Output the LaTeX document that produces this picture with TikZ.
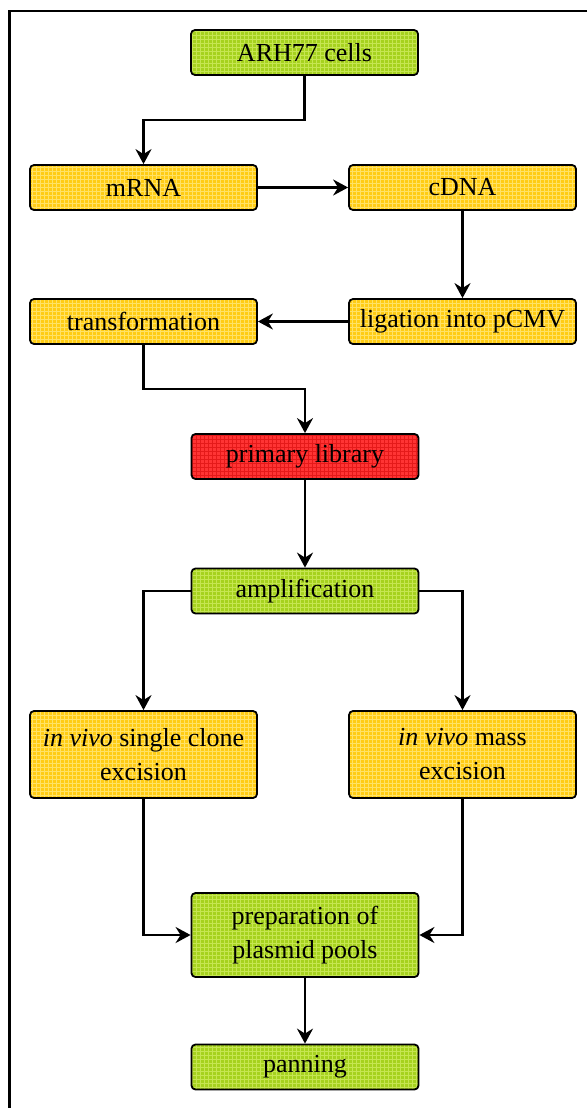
\documentclass[tikz,border=0pt]{standalone}
\usepackage{fontspec}
\setmainfont{Liberation Serif}
\usetikzlibrary{patterns.meta,arrows.meta}
\definecolor{gfill}{HTML}{A6D21E}
\definecolor{ggrid}{HTML}{C6E652}
\definecolor{yfill}{HTML}{FFCC14}
\definecolor{ygrid}{HTML}{FFE266}
\definecolor{rfill}{HTML}{FF3434}
\definecolor{rgrid}{HTML}{E51A1A}
\tikzdeclarepattern{
  name=coarsegrid,
  type=uncolored,
  bounding box={(-0.5pt,-0.5pt) and (4.5pt,4.5pt)},
  tile size={(4pt,4pt)},
  line width=0.7pt,
  code={
    \pgfpathmoveto{\pgfpointorigin}
    \pgfpathlineto{\pgfqpoint{4pt}{0pt}}
    \pgfpathmoveto{\pgfpointorigin}
    \pgfpathlineto{\pgfqpoint{0pt}{4pt}}
    \pgfusepath{stroke}
  }
}
\begin{document}
\begin{tikzpicture}[x=1pt,y=-1pt,
  box/.style={draw=black, line width=1.8pt, rounded corners=4pt,
    minimum width=227pt, minimum height=45pt, align=center, inner sep=0pt,
    font=\fontsize{26}{34}\selectfont},
  gbox/.style={box, preaction={fill=gfill}, pattern=coarsegrid, pattern color=ggrid},
  ybox/.style={box, preaction={fill=yfill}, pattern=coarsegrid, pattern color=ygrid},
  rbox/.style={box, preaction={fill=rfill}, pattern=coarsegrid, pattern color=rgrid},
  arr/.style={line width=2.6pt, -{Stealth[length=15pt,width=16pt,inset=5pt]}},
  frame/.style={line width=2.8pt}]
\useasboundingbox (0,0) rectangle (587,1108);
\coordinate (ftr) at (587,11);
\coordinate (ftl) at (9.5,11);
\coordinate (fbl) at (9.5,1108);
\draw[frame] (ftr) -- (ftl) -- (fbl);

\node[gbox] (arh) at (304.5,52.5) {ARH77 cells};
\node[ybox] (mrna) at (143.5,187.5) {mRNA};
\node[ybox] (cdna) at (462.5,187.5) {cDNA};
\node[ybox] (lig) at (462.5,321.5) {ligation into pCMV};
\node[ybox] (trans) at (143.5,321.5) {transformation};
\node[rbox] (prim) at (305,456.5) {primary library};
\node[gbox] (amp) at (305,591) {amplification};
\node[ybox, minimum height=87pt] (single) at (143.5,754.5) {\textit{in vivo} single clone\\excision};
\node[ybox, minimum height=87pt] (mass) at (462.5,754.5) {\textit{in vivo} mass\\excision};
\node[gbox, minimum height=84pt] (prep) at (305,935) {preparation of\\plasmid pools};
\node[gbox] (pan) at (305,1067) {panning};

\draw[arr] (arh.south) -- ++(0,44) -| (mrna.north);
\draw[arr] (mrna) -- (cdna);
\draw[arr] (cdna) -- (lig);
\draw[arr] (lig) -- (trans);
\draw[arr] (trans.south) -- ++(0,44) -| (prim.north);
\draw[arr] (prim) -- (amp);
\draw[arr] (amp.west) -| (single.north);
\draw[arr] (amp.east) -| (mass.north);
\draw[arr] (single.south) |- (prep.west);
\draw[arr] (mass.south) |- (prep.east);
\draw[arr] (prep) -- (pan);
\end{tikzpicture}
\end{document}
